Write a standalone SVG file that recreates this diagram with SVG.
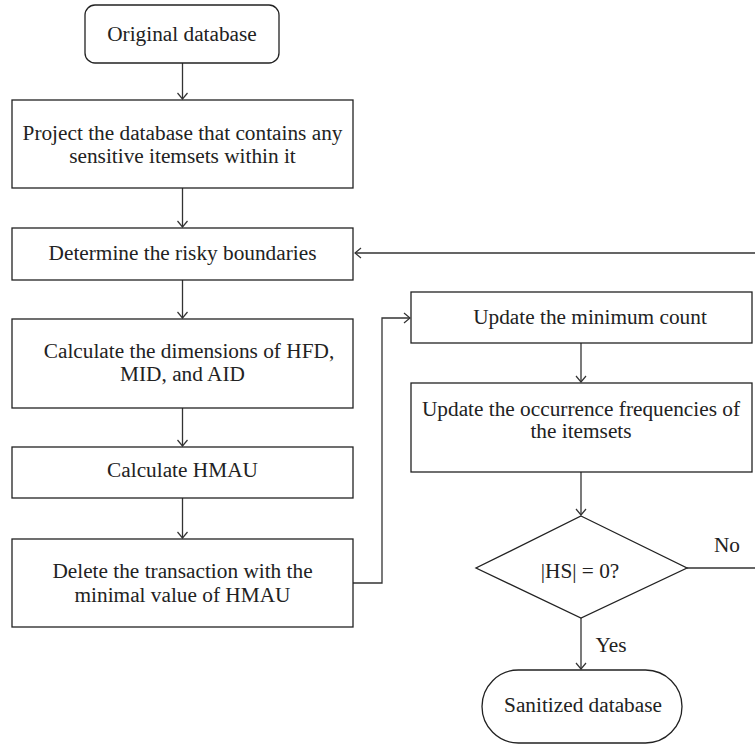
<svg xmlns="http://www.w3.org/2000/svg" width="755" height="745" viewBox="0 0 755 745">
<defs>
<style>
.box{fill:#fff;stroke:#222;stroke-width:1.3}
.t{font-family:"Liberation Serif","Times New Roman",serif;font-size:21.3px;fill:#222;text-anchor:middle}
.c{fill:none;stroke:#333;stroke-width:1.3}
</style>
<marker id="a" markerWidth="12" markerHeight="12" refX="10" refY="6" orient="auto" markerUnits="userSpaceOnUse">
<path d="M4,1 L10,6 L4,11" fill="none" stroke="#333" stroke-width="1.2"/>
</marker>
</defs>
<g id="connectors">
<line class="c" x1="182.5" y1="63" x2="182.5" y2="99" marker-end="url(#a)"/>
<line class="c" x1="182.5" y1="188" x2="182.5" y2="227" marker-end="url(#a)"/>
<line class="c" x1="182.5" y1="280" x2="182.5" y2="318" marker-end="url(#a)"/>
<line class="c" x1="182.5" y1="408" x2="182.5" y2="446" marker-end="url(#a)"/>
<line class="c" x1="182.5" y1="498" x2="182.5" y2="538" marker-end="url(#a)"/>
<polyline class="c" points="353,583 382,583 382,318 410,318" marker-end="url(#a)"/>
<line class="c" x1="581" y1="343" x2="581" y2="382" marker-end="url(#a)"/>
<line class="c" x1="581" y1="472" x2="581" y2="515" marker-end="url(#a)"/>
<line class="c" x1="581" y1="618" x2="581" y2="669" marker-end="url(#a)"/>
<polyline class="c" points="687,568 757,568 757,253 355,253" marker-end="url(#a)"/>
<text class="t" x="727" y="552">No</text>
<text class="t" x="611" y="652">Yes</text>
</g>
<g id="n1"><rect class="box" x="85" y="5" width="194" height="58" rx="10"/><text class="t" x="182" y="41">Original database</text></g>
<g id="n2"><rect class="box" x="12" y="100" width="341" height="88"/><text class="t" x="182.5" y="140">Project the database that contains any</text><text class="t" x="182.5" y="163">sensitive itemsets within it</text></g>
<g id="n3"><rect class="box" x="12" y="228" width="341" height="52"/><text class="t" x="182.5" y="260">Determine the risky boundaries</text></g>
<g id="n4"><rect class="box" x="12" y="319" width="341" height="89"/><text class="t" x="189" y="358">Calculate the dimensions of HFD,</text><text class="t" x="182.5" y="381">MID, and AID</text></g>
<g id="n5"><rect class="box" x="12" y="447" width="341" height="51"/><text class="t" x="182.5" y="477">Calculate HMAU</text></g>
<g id="n6"><rect class="box" x="12" y="539" width="341" height="88"/><text class="t" x="182.5" y="578">Delete the transaction with the</text><text class="t" x="182.5" y="602">minimal value of HMAU</text></g>
<g id="n7"><rect class="box" x="411" y="292" width="341" height="51"/><text class="t" x="590" y="324">Update the minimum count</text></g>
<g id="n8"><rect class="box" x="411" y="383" width="341" height="89"/><text class="t" x="581" y="416">Update the occurrence frequencies of</text><text class="t" x="581" y="438">the itemsets</text></g>
<g id="n9"><polygon class="box" points="581,516 687,568 581,618 476,568"/><text class="t" x="580" y="578">|HS| = 0?</text></g>
<g id="n10"><rect class="box" x="482" y="670" width="200" height="73" rx="36.5"/><text class="t" x="583" y="712">Sanitized database</text></g>
</svg>
